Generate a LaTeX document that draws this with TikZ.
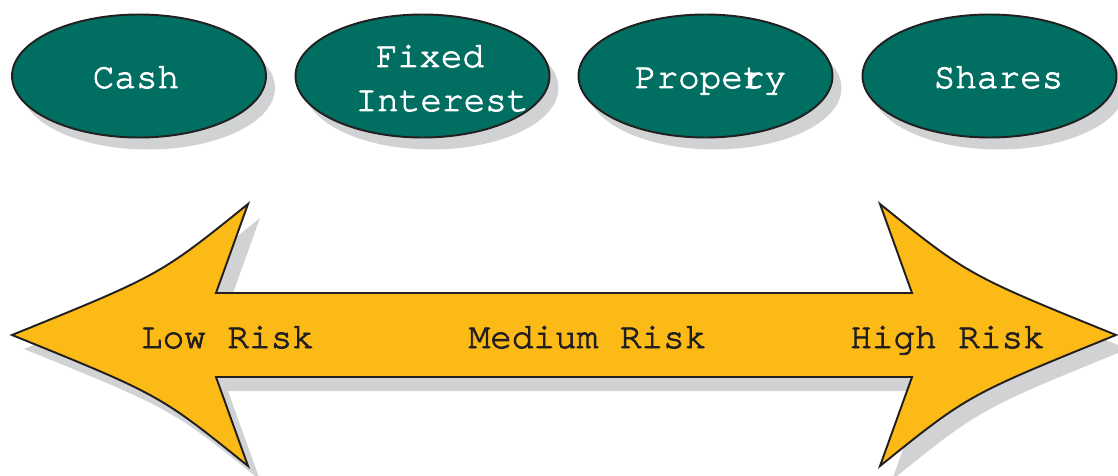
\documentclass[tikz,border=0pt]{standalone}
\usepackage{fontspec}
\newfontfamily\riskfont[FakeBold=2.4]{texgyrecursor-regular.otf}
\usetikzlibrary{shapes.geometric,shadows}
\definecolor{assetgreen}{HTML}{006F62}
\definecolor{riskyellow}{HTML}{FBBA16}
\definecolor{shadowgray}{HTML}{D1D2D4}
\definecolor{outline}{HTML}{231F20}
\begin{document}
\begin{tikzpicture}[x=0.02cm,y=-0.02cm,
  pill/.style={ellipse,draw=outline,line width=1.1pt,fill=assetgreen,
    minimum width=5.08cm,minimum height=2.46cm,inner sep=0pt,
    drop shadow={shadow xshift=0.18cm,shadow yshift=-0.24cm,fill=shadowgray,opacity=1}},
  pilltext/.style={anchor=base,inner sep=0pt,text=white,font=\riskfont\fontsize{20.5}{25}\selectfont},
  risktext/.style={pilltext,text=outline}]
\useasboundingbox (0,0) rectangle (1118,476);

% the four asset classes
\node[pill] (cash) at (139,76) {};
\node[pill] (fixed) at (422.5,76) {};
\node[pill] (property) at (705.5,76) {};
\node[pill] (shares) at (989.5,76) {};
\node[pilltext] (cashtxt) at (136,88) {Cash};
\node[pilltext] (fixedtxt) at (430,67) {Fixed};
\node[pilltext] (interesttxt) at (442,111) {Interest};
\node[pilltext] (propertytxt) at (710.5,88) {Prope\rlap{r}ty};
\node[pilltext] (sharestxt) at (998.5,88) {Shares};

% risk scale
\draw[line width=1.1pt,draw=outline,fill=riskyellow,line join=miter,
  drop shadow={shadow xshift=0.24cm,shadow yshift=-0.28cm,fill=shadowgray,opacity=1}]
  (216,293) -- (912,293) -- (880,204) .. controls (968,275) .. (1116,335)
  .. controls (968,395) .. (880,466) -- (912,377) -- (216,377) -- (248,466)
  .. controls (160,395) .. (12,335) .. controls (160,275) .. (248,204) -- cycle;
\node[risktext] (lowtxt) at (227.5,348) {Low Risk};
\node[risktext] (medtxt) at (587.5,348) {Medium Risk};
\node[risktext] (hightxt) at (947.5,348) {High Risk};
\end{tikzpicture}
\end{document}
